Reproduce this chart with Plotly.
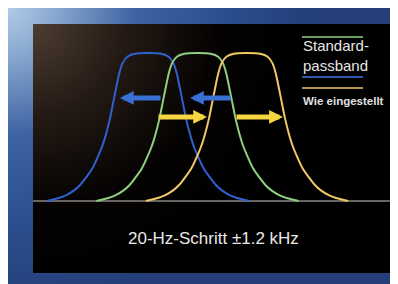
import base64
import plotly.graph_objects as go

# ---- data (kHz offsets, relative level) ----
levels = [0.0, 0.02, 0.04, 0.07, 0.11, 0.16, 0.22, 0.29, 0.37, 0.46, 0.56, 0.67, 0.78, 0.87,
          0.935, 0.975, 0.995, 1.0,
          0.995, 0.975, 0.935, 0.87, 0.78, 0.67, 0.56, 0.46, 0.37, 0.29, 0.22, 0.16, 0.11,
          0.07, 0.04, 0.02, 0.0]
green_x = [-2.45, -2.16, -1.98, -1.80, -1.64, -1.50, -1.35, -1.23, -1.11, -1.01, -0.92, -0.84,
           -0.76, -0.69, -0.61, -0.50, -0.32, 0.0,
           0.32, 0.50, 0.61, 0.69, 0.76, 0.84, 0.92, 1.01, 1.11, 1.23, 1.35, 1.50, 1.64, 1.80,
           1.98, 2.16, 2.45]
blue_x = [-3.65, -3.36, -3.18, -3.00, -2.84, -2.70, -2.55, -2.43, -2.31, -2.21, -2.12, -2.04,
          -1.96, -1.89, -1.81, -1.70, -1.52, -1.20,
          -0.88, -0.70, -0.59, -0.51, -0.44, -0.36, -0.28, -0.19, -0.09, 0.03, 0.15, 0.30, 0.44,
          0.60, 0.78, 0.96, 1.25]
yellow_x = [-1.25, -0.96, -0.78, -0.60, -0.44, -0.30, -0.15, -0.03, 0.09, 0.19, 0.28, 0.36,
            0.44, 0.51, 0.59, 0.70, 0.88, 1.20,
            1.52, 1.70, 1.81, 1.89, 1.96, 2.04, 2.12, 2.21, 2.31, 2.43, 2.55, 2.70, 2.84, 3.00,
            3.18, 3.36, 3.65]

# arrows: (tail x, head x, level)
blue_arrows = [(-0.86, -1.88, 0.696), (0.84, -0.18, 0.696)]
yellow_arrows = [(-0.98, 0.23, 0.568), (0.91, 2.07, 0.568)]

legend_labels = ["Standard-", "passband", "Wie eingestellt"]
caption = "20-Hz-Schritt \u00b11.2 kHz"

BLUE = "#2f61cf"
GREEN = "#8fcf80"
YELLOW = "#f2c865"

OFF = 8  # page offset of the figure (body margin)
W, H = 390, 276
L, R, T, B = 25, 3, 16, 11
PW, PH = W - L - R, H - T - B


def px(xp):
    return (xp - OFF - L) / PW


def py(yp):
    return (H - B - (yp - OFF)) / PH


svg = f'''<svg xmlns="http://www.w3.org/2000/svg" width="{W}" height="{H}" viewBox="0 0 {W} {H}">
<defs>
<radialGradient id="fr" gradientUnits="userSpaceOnUse" cx="0" cy="0" r="300">
<stop offset="0" stop-color="#b0cbe6"/>
<stop offset="0.14" stop-color="#8eadd2"/>
<stop offset="0.42" stop-color="#3f64a3"/>
<stop offset="0.7" stop-color="#2b4f8f"/>
<stop offset="1" stop-color="#243f7a"/>
</radialGradient>
<radialGradient id="pn" gradientUnits="userSpaceOnUse" cx="{L}" cy="{T}" r="260">
<stop offset="0" stop-color="#4d3d32"/>
<stop offset="0.35" stop-color="#241a14"/>
<stop offset="0.7" stop-color="#050302"/>
<stop offset="1" stop-color="#000000"/>
</radialGradient>
</defs>
<rect x="0" y="0" width="{W}" height="{H}" fill="url(#fr)"/>
<rect x="{L}" y="{T}" width="{PW}" height="{PH}" fill="url(#pn)"/>
</svg>'''
src = "data:image/svg+xml;base64," + base64.b64encode(svg.encode()).decode()

fig = go.Figure()
for xs, col in [(blue_x, BLUE), (green_x, GREEN), (yellow_x, YELLOW)]:
    fig.add_trace(go.Scatter(x=xs, y=levels, mode="lines",
                             line=dict(color=col, width=2, shape="spline", smoothing=1.0),
                             hoverinfo="skip", showlegend=False))

x0 = (33 - 197.5) / 41.25
x1 = (395 - 197.5) / 41.25
y1 = (201 - 24) / 148
y0 = (201 - 273) / 148

anns = []
for tail, head, lv in blue_arrows:
    anns.append(dict(x=head, y=lv, ax=tail, ay=lv, xref="x", yref="y", axref="x", ayref="y",
                     text="", showarrow=True, arrowhead=2, arrowwidth=5, arrowsize=0.55,
                     arrowcolor="#3a6fd6", standoff=0))
for tail, head, lv in yellow_arrows:
    anns.append(dict(x=head, y=lv, ax=tail, ay=lv, xref="x", yref="y", axref="x", ayref="y",
                     text="", showarrow=True, arrowhead=2, arrowwidth=5, arrowsize=0.55,
                     arrowcolor="#f5d640", standoff=0))

anns.append(dict(x=px(301), y=py(55), xref="paper", yref="paper", xanchor="left", yanchor="middle",
                 text=legend_labels[0] + "<br>" + legend_labels[1], showarrow=False, align="left",
                 font=dict(family="Liberation Sans, Arial", size=15, color="#e6e6e6")))
anns.append(dict(x=px(301), y=py(101), xref="paper", yref="paper", xanchor="left", yanchor="middle",
                 text="<b>" + legend_labels[2] + "</b>", showarrow=False,
                 font=dict(family="Liberation Sans, Arial", size=11.5, color="#e0e0e0")))
anns.append(dict(x=px(213), y=py(238), xref="paper", yref="paper", xanchor="center", yanchor="middle",
                 text=caption, showarrow=False,
                 font=dict(family="Liberation Sans, Arial", size=17, color="#e8e8e8")))

shapes = [
    dict(type="line", xref="paper", yref="y", x0=0, x1=1, y0=0, y1=0,
         line=dict(color="#8c8680", width=1.5), layer="below"),
    dict(type="line", xref="paper", yref="paper", x0=px(302), x1=px(363), y0=py(37), y1=py(37),
         line=dict(color="#6f9f64", width=2)),
    dict(type="line", xref="paper", yref="paper", x0=px(302), x1=px(363), y0=py(77), y1=py(77),
         line=dict(color="#2d58b0", width=2)),
    dict(type="line", xref="paper", yref="paper", x0=px(302), x1=px(363), y0=py(88), y1=py(88),
         line=dict(color="#b8944a", width=2)),
]

fig.update_layout(
    width=W, height=H,
    margin=dict(l=L, r=R, t=T, b=B, pad=0),
    paper_bgcolor="white", plot_bgcolor="rgba(0,0,0,0)",
    xaxis=dict(range=[x0, x1], visible=False, fixedrange=True),
    yaxis=dict(range=[y0, y1], visible=False, fixedrange=True),
    images=[dict(source=src, xref="paper", yref="paper", x=-L / PW, y=1 + T / PH,
                 sizex=W / PW, sizey=H / PH, xanchor="left", yanchor="top",
                 sizing="stretch", layer="below")],
    annotations=anns, shapes=shapes, showlegend=False,
)

fig.write_html("out.html", config={"displayModeBar": False})
